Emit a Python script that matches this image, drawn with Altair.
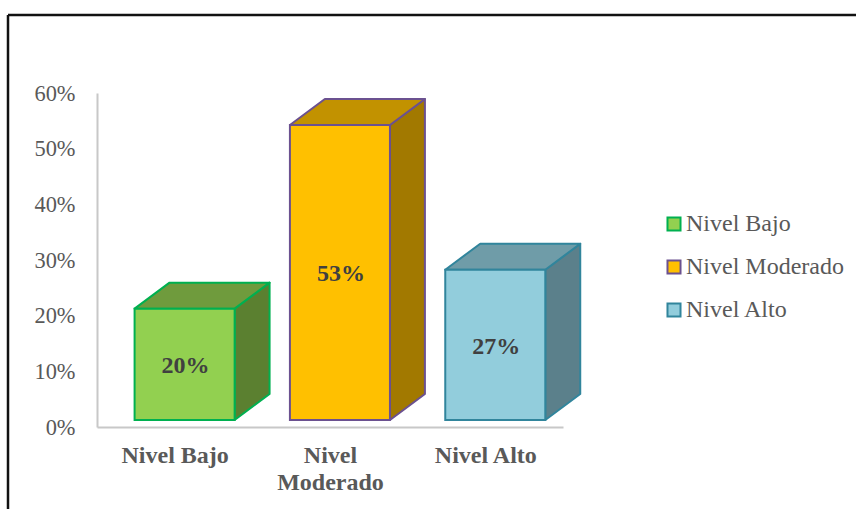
import altair as alt
import pandas as pd

# Survey results by level
categories = ["Nivel Bajo", "Nivel Moderado", "Nivel Alto"]
shares = [0.20, 0.53, 0.27]

front_colors = ["#92D050", "#FFC000", "#92CDDC"]
top_colors = ["#6F9B3D", "#C29200", "#6F9CA8"]
side_colors = ["#5B8030", "#A27900", "#5B808B"]
edge_colors = ["#00B050", "#6B5190", "#31859C"]

FONT = "Liberation Serif"

# Column geometry, in axis units
bar_start = 0.242
bar_width = 0.644
depth_x = 0.225
depth_y = 0.0467
lift = -7  # the floor of the 3D box sits a little above the axis line

bars = pd.DataFrame({
    "category": categories,
    "share": shares,
    "x0": [i + bar_start for i in range(3)],
    "x1": [i + bar_start + bar_width for i in range(3)],
    "xc": [i + bar_start + bar_width / 2 for i in range(3)],
    "mid": [s / 2 for s in shares],
    "base": [0.0] * 3,
})

# Outlines of the receding faces, described as upper/lower area bounds
side_rows, top_rows = [], []
for i, (cat, s) in enumerate(zip(categories, shares)):
    left = i + bar_start
    right = left + bar_width
    side_rows += [
        dict(category=cat, x=right, y=s, y2=0.0, fill=side_colors[i], edge=edge_colors[i]),
        dict(category=cat, x=right + depth_x, y=s + depth_y, y2=depth_y, fill=side_colors[i], edge=edge_colors[i]),
    ]
    top_rows += [
        dict(category=cat, x=left, y=s, y2=s, fill=top_colors[i], edge=edge_colors[i]),
        dict(category=cat, x=left + depth_x, y=s + depth_y, y2=s, fill=top_colors[i], edge=edge_colors[i]),
        dict(category=cat, x=right, y=s + depth_y, y2=s, fill=top_colors[i], edge=edge_colors[i]),
        dict(category=cat, x=right + depth_x, y=s + depth_y, y2=s + depth_y, fill=top_colors[i], edge=edge_colors[i]),
    ]
faces = pd.DataFrame(side_rows + top_rows)

x_scale = alt.Scale(domain=[0, 3], nice=False, zero=False)
y_scale = alt.Scale(domain=[0, 0.6], nice=False)

x_axis = alt.Axis(
    title=None, values=[0.5, 1.5, 2.5], ticks=False, grid=False,
    domainColor="#C8C8C8", domainWidth=2,
    labelExpr="datum.value < 1 ? 'Nivel Bajo' : datum.value < 2 ? ['Nivel', 'Moderado'] : 'Nivel Alto'",
    labelFont=FONT, labelFontSize=24, labelFontWeight="bold", labelColor="#595959",
    labelPadding=16, labelLineHeight=27, labelAngle=0, labelOverlap=False, labelBound=False, labelFlush=False,
)
y_axis = alt.Axis(
    title=None, values=[0, 0.1, 0.2, 0.3, 0.4, 0.5, 0.6], format=".0%", ticks=False, grid=False,
    domainColor="#C8C8C8", domainWidth=2,
    labelFont=FONT, labelFontSize=22.4, labelColor="#595959", labelPadding=22,
)

receding = alt.Chart(faces).mark_area(strokeWidth=2, strokeJoin="round", yOffset=lift, y2Offset=lift).encode(
    x=alt.X("x:Q", scale=x_scale, axis=x_axis),
    y=alt.Y("y:Q", scale=y_scale, axis=y_axis),
    y2="y2:Q",
    fill=alt.Fill("fill:N", scale=None),
    stroke=alt.Stroke("edge:N", scale=None),
    detail="category:N",
)

legend = alt.Legend(
    title=None, orient="none", legendX=565, legendY=119, symbolType="square", symbolSize=170,
    symbolStrokeWidth=2, rowPadding=19, labelFont=FONT, labelFontSize=24, labelColor="#595959",
    labelOffset=0, labelLimit=300,
)

front = alt.Chart(bars).mark_bar(strokeWidth=2, yOffset=lift, y2Offset=lift).encode(
    x=alt.X("x0:Q", scale=x_scale),
    x2="x1:Q",
    y=alt.Y("share:Q", scale=y_scale),
    y2="base:Q",
    fill=alt.Fill("category:N", scale=alt.Scale(domain=categories, range=front_colors), sort=categories, legend=legend),
    stroke=alt.Stroke("category:N", scale=alt.Scale(domain=categories, range=edge_colors), sort=categories, legend=legend),
)

value_labels = alt.Chart(bars).mark_text(
    font=FONT, fontSize=24, fontWeight="bold", color="#404040", dx=1, dy=lift + 2
).encode(
    x=alt.X("xc:Q", scale=x_scale),
    y=alt.Y("mid:Q", scale=y_scale),
    text=alt.Text("share:Q", format=".0%"),
)

# Frame around the figure: only its top and left edges fall inside the canvas
anchor = pd.DataFrame({"a": [0]})
frame_top = alt.Chart(anchor).mark_rule(color="#111111", strokeWidth=2.5).encode(
    x=alt.value(-89), x2=alt.value(763), y=alt.value(-78)
)
frame_left = alt.Chart(anchor).mark_rule(color="#111111", strokeWidth=2.5).encode(
    x=alt.value(-89), y=alt.value(-78), y2=alt.value(416)
)

chart = alt.layer(receding, front, value_labels, frame_top, frame_left).properties(
    width=466,
    height=334,
    padding={"left": 97, "top": 93, "right": 293, "bottom": 82},
    autosize=alt.AutoSizeParams(type="none"),
    background="white",
).configure_view(stroke=None)

chart.save("out.html", embed_options={"renderer": "svg", "actions": False})
